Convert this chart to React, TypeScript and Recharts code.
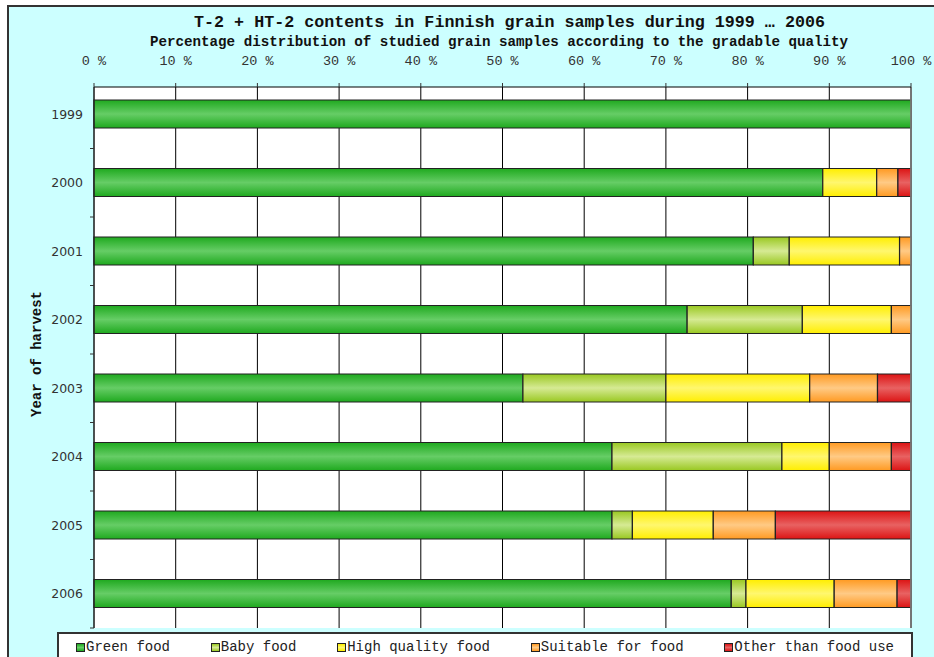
import React from "react"
import { BarChart, Bar, XAxis, YAxis, CartesianGrid, ReferenceLine } from "recharts"

const YEARS = ["1999", "2000", "2001", "2002", "2003", "2004", "2005", "2006"]
const GREEN_FOOD = [100, 89.2, 80.7, 72.6, 52.5, 63.4, 63.4, 78.0]
const BABY_FOOD = [0, 0, 4.4, 14.1, 17.5, 20.8, 2.5, 1.8]
const HIGH_QUALITY = [0, 6.6, 13.5, 10.9, 17.6, 5.8, 9.9, 10.8]
const SUITABLE = [0, 2.6, 1.4, 2.4, 8.3, 7.6, 7.6, 7.7]
const OTHER_USE = [0, 1.6, 0, 0, 4.1, 2.4, 16.6, 1.7]
const X_TICKS = [0, 10, 20, 30, 40, 50, 60, 70, 80, 90, 100]

const SERIES = [
  { key: "green", name: "Green food", values: GREEN_FOOD, edge: "#1fa91f", mid: "#66cd66" },
  { key: "baby", name: "Baby food", values: BABY_FOOD, edge: "#99c821", mid: "#d6ea94" },
  { key: "high", name: "High quality food", values: HIGH_QUALITY, edge: "#ffee00", mid: "#fff76e" },
  { key: "suit", name: "Suitable for food", values: SUITABLE, edge: "#ff9a22", mid: "#ffca85" },
  { key: "other", name: "Other than food use", values: OTHER_USE, edge: "#dc1414", mid: "#e86262" },
]

const data = YEARS.map((year, i) => {
  const row: Record<string, string | number> = { year }
  SERIES.forEach((s) => (row[s.key] = s.values[i]))
  return row
})

const W = 934
const H = 657
const PLOT_LEFT = 94
const PLOT_TOP = 87
const PLOT_RIGHT = 911
const PLOT_BOTTOM = 628
const PAD_TOP = -7
const BAND = (PLOT_BOTTOM - PLOT_TOP - PAD_TOP) / YEARS.length
const MONO = "'Liberation Mono', 'Courier New', monospace"

function YearTick(props: any) {
  const { y, payload } = props
  return (
    <g>
      <text
        x={PLOT_LEFT - 11}
        y={y}
        dy={4.5}
        textAnchor="end"
        fill="#333"
        fontSize={12.5}
        fontFamily="'DejaVu Sans', Verdana, sans-serif"
      >
        {payload.value}
      </text>
      <line x1={PLOT_LEFT - 4} x2={PLOT_LEFT} y1={y + BAND / 2} y2={y + BAND / 2} stroke="#333" />
    </g>
  )
}

export default function App() {
  return (
    <div style={{ position: "absolute", left: 0, top: 0, width: W, height: H, overflow: "hidden" }}>
      <div
        style={{
          position: "absolute",
          left: 7,
          top: 5,
          width: W + 20,
          height: H + 20,
          background: "#ccffff",
          borderLeft: "2px solid #333",
          borderTop: "2px solid #333",
        }}
      />
      <div
        style={{
          position: "absolute",
          left: 0,
          width: 1019,
          top: 13,
          textAlign: "center",
          fontFamily: MONO,
          fontWeight: "bold",
          fontSize: 16.7,
          color: "#111",
          whiteSpace: "nowrap",
        }}
      >
        T-2 + HT-2 contents in Finnish grain samples during 1999 … 2006
      </div>
      <div
        style={{
          position: "absolute",
          left: 150,
          width: 716,
          top: 34,
          fontFamily: MONO,
          fontWeight: "bold",
          fontSize: 14.2,
          color: "#111",
          whiteSpace: "nowrap",
        }}
      >
        Percentage distribution of studied grain samples according to the gradable quality
      </div>
      <div
        style={{
          position: "absolute",
          left: 37,
          top: 354,
          transform: "translate(-50%, -50%) rotate(-90deg)",
          fontFamily: MONO,
          fontWeight: "bold",
          fontSize: 14,
          color: "#111",
          whiteSpace: "nowrap",
        }}
      >
        Year of harvest
      </div>
      <div style={{ position: "absolute", left: 0, top: 0 }}>
        <BarChart
          width={W}
          height={H}
          data={data}
          layout="vertical"
          margin={{ top: PLOT_TOP - 30, right: W - PLOT_RIGHT, bottom: H - PLOT_BOTTOM, left: 0 }}
          barSize={28}
        >
          <defs>
            {SERIES.map((s) => (
              <linearGradient key={s.key} id={`grad-${s.key}`} x1="0" y1="0" x2="0" y2="1">
                <stop offset="0%" stopColor={s.edge} />
                <stop offset="50%" stopColor={s.mid} />
                <stop offset="100%" stopColor={s.edge} />
              </linearGradient>
            ))}
          </defs>
          <CartesianGrid horizontal={false} stroke="#000" fill="#fff" strokeOpacity={1} />
          <XAxis
            type="number"
            orientation="top"
            domain={[0, 100]}
            ticks={X_TICKS}
            height={30}
            tickFormatter={(v) => `${v} %`}
            tickSize={4}
            tickMargin={18}
            axisLine={{ stroke: "#000" }}
            tickLine={{ stroke: "#333" }}
            tick={{ fill: "#333", fontSize: 13.5, fontFamily: MONO }}
            interval={0}
          />
          <XAxis
            xAxisId="bottom"
            type="number"
            orientation="bottom"
            domain={[0, 100]}
            height={0}
            tick={false}
            tickLine={false}
            axisLine={{ stroke: "#aaa" }}
          />
          <YAxis
            type="category"
            dataKey="year"
            width={PLOT_LEFT}
            padding={{ top: PAD_TOP, bottom: 0 }}
            axisLine={{ stroke: "#222" }}
            tickLine={false}
            tick={<YearTick />}
            interval={0}
          />
          <ReferenceLine x={100} stroke="#888" strokeWidth={1.5} />
          {SERIES.map((s) => (
            <Bar
              key={s.key}
              dataKey={s.key}
              name={s.name}
              stackId="a"
              fill={`url(#grad-${s.key})`}
              stroke="#222"
              strokeWidth={1.2}
              isAnimationActive={false}
            />
          ))}
        </BarChart>
      </div>
      <div
        style={{
          position: "absolute",
          left: 57,
          top: 632,
          width: 856,
          height: 40,
          boxSizing: "border-box",
          background: "#fff",
          border: "2px solid #333",
          display: "flex",
          justifyContent: "space-between",
          padding: "3px 17px 0 17px",
          fontFamily: MONO,
          fontSize: 14,
          color: "#222",
        }}
      >
        {SERIES.map((s) => (
          <div key={s.key} style={{ display: "flex", alignItems: "center", height: 20, whiteSpace: "nowrap" }}>
            <span
              style={{
                display: "inline-block",
                width: 7,
                height: 7,
                border: "1px solid #222",
                background: `linear-gradient(${s.edge}, ${s.mid}, ${s.edge})`,
                marginRight: 1,
              }}
            />
            {s.name}
          </div>
        ))}
      </div>
    </div>
  )
}
